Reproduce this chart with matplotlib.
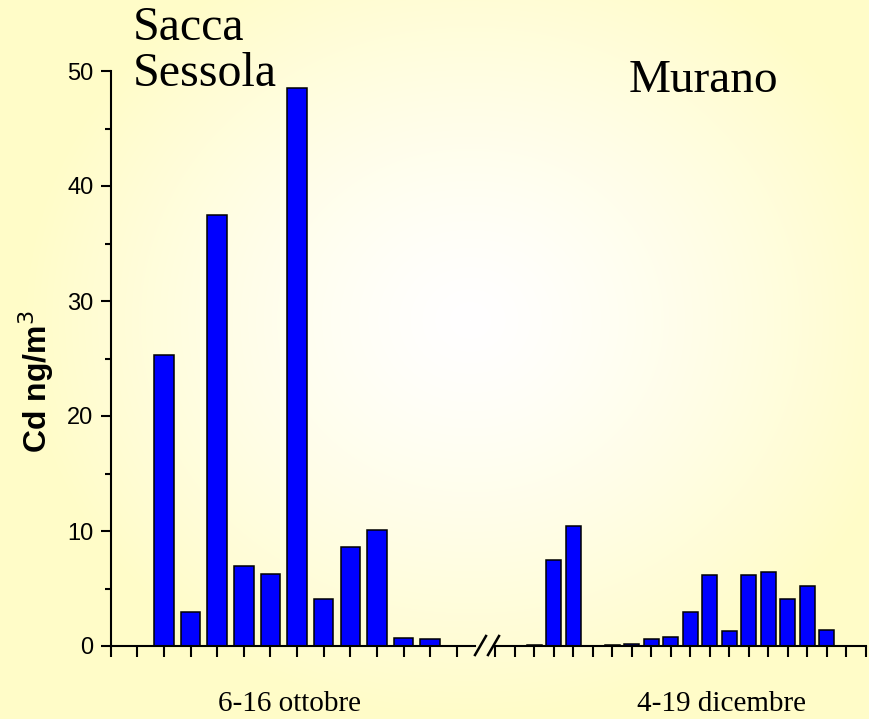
import numpy as np
import matplotlib
matplotlib.use("Agg")
import matplotlib.pyplot as plt
from matplotlib.lines import Line2D

# Cd concentrations (ng/m3), daily samples
sessola_pos = [2, 3, 4, 5, 6, 7, 8, 9, 10, 11, 12]
sessola_cd = [25.3, 3.0, 37.5, 7.0, 6.3, 48.5, 4.1, 8.6, 10.1, 0.7, 0.6]

murano_pos = [2, 3, 4, 5, 6, 7, 8, 9, 10, 11, 12, 13, 14, 15, 16, 17]
murano_cd = [0.05, 7.5, 10.4, 0.03, 0.1, 0.2, 0.6, 0.8, 3.0, 6.2, 1.3, 6.2, 6.4, 4.1, 5.2, 1.4]

y_ticks = [0, 10, 20, 30, 40, 50]
period_labels = ["6-16 ottobre", "4-19 dicembre"]
site_labels = ["Sacca\nSessola", "Murano"]

W, H = 870, 719
fig = plt.figure(figsize=(W / 100, H / 100), dpi=100)

# soft radial background: white centre fading to pale yellow
bg = fig.add_axes([0, 0, 1, 1], zorder=-10)
yy, xx = np.mgrid[0:H, 0:W]
r = np.sqrt(((xx - 470) / 450.0) ** 2 + ((yy - 320) / 400.0) ** 2)
t = np.clip(r, 0, 1) ** 1.3
edge = np.array([255, 252, 200]) / 255.0
img = (1 - t)[..., None] * np.ones(3) + t[..., None] * edge
bg.imshow(img, aspect="auto", interpolation="bilinear")
bg.axis("off")

bar_color = "#0000FF"
sans = "Liberation Sans"
serif = "Liberation Serif"

def px(x0, y0, x1, y1):
    return [x0 / W, 1 - y1 / H, (x1 - x0) / W, (y1 - y0) / H]

ax1 = fig.add_axes(px(110.7, 71, 475, 646))
ax2 = fig.add_axes(px(495, 71, 866, 646))
for ax in (ax1, ax2):
    ax.patch.set_alpha(0)
    ax.set_ylim(0, 50)
    for s in ("top", "right"):
        ax.spines[s].set_visible(False)
    ax.spines["bottom"].set_linewidth(1.5)
    ax.tick_params(axis="x", which="major", direction="out", length=8, width=1.5,
                   labelbottom=False)

ax1.bar(sessola_pos, sessola_cd, width=0.73, color=bar_color, edgecolor="black", linewidth=1.1)
ax1.set_xlim(0, (475 - 110.7) / 26.62)
ax1.set_xticks(range(0, 14))
ax1.spines["left"].set_linewidth(1.5)
ax1.set_yticks(y_ticks)
ax1.set_yticks(np.arange(5, 50, 10), minor=True)
ax1.tick_params(axis="y", which="major", direction="out", length=7.5, width=1.5,
                labelsize=17, pad=5)
ax1.tick_params(axis="y", which="minor", direction="out", length=4.5, width=1.5)
for lab in ax1.get_yticklabels():
    lab.set_fontfamily(sans)
ax1.set_ylabel("Cd ng/m$^3$", fontsize=23, fontweight="bold", fontfamily=sans)
ax1.yaxis.set_label_coords(-(110.7 - 56) / 364.3, (646 - 382) / 575)

ax2.bar(murano_pos, murano_cd, width=0.77, color=bar_color, edgecolor="black", linewidth=1.1)
ax2.set_xlim(0, 19)
ax2.set_xticks(range(0, 20))
ax2.spines["left"].set_visible(False)
ax2.tick_params(axis="y", left=False, labelleft=False)

# axis break marks
for x0 in (475, 488):
    fig.add_artist(Line2D([x0 / W, (x0 + 11) / W], [1 - 655 / H, 1 - 636 / H],
                          color="black", lw=1.8))

fig.text(133 / W, 1 - 86 / H, site_labels[0], fontfamily=serif, fontsize=34.5,
         ha="left", va="baseline", linespacing=1.07)
fig.text(703 / W, 1 - 92 / H, site_labels[1], fontfamily=serif, fontsize=34,
         ha="center", va="baseline")
fig.text(290 / W, 1 - 704 / H, period_labels[0], fontfamily=serif, fontsize=21,
         ha="center", va="center")
fig.text(722 / W, 1 - 704 / H, period_labels[1], fontfamily=serif, fontsize=21,
         ha="center", va="center")

fig.savefig("out.png", dpi=100)
